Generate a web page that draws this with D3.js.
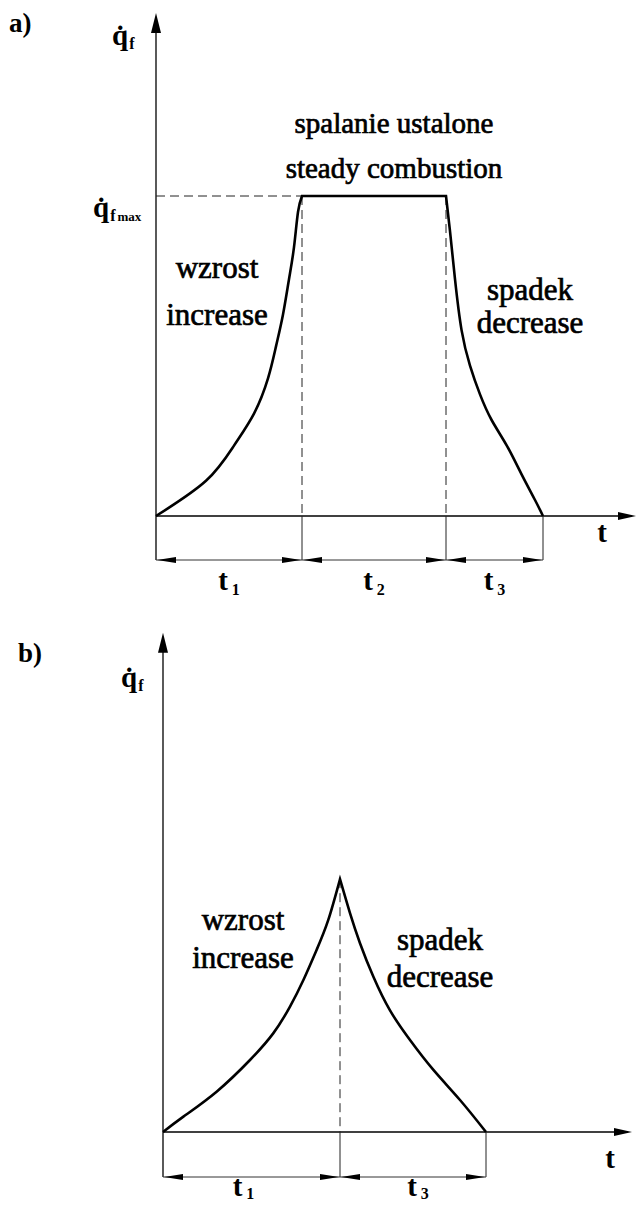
<!DOCTYPE html>
<html>
<head>
<meta charset="utf-8">
<script src="https://cdn.jsdelivr.net/npm/d3@7"></script>
</head>
<body style="margin:0">
<svg id="chart" width="637" height="1205" style="display:block;background:#fff"></svg>
<script>
// ---------------------------------------------------------------
// Heat release rate of a fire over time (schematic curves)
// time in arbitrary units, q̇f relative to q̇f max
// ---------------------------------------------------------------

// a) fire with a steady-combustion phase
const phaseBoundsA = [0, 36.5, 72.5, 96.75];
const phaseNamesA = ["1", "2", "3"];
const growthTimeA = [0, 12.5, 19.5, 24.5, 28, 30, 31.75, 33.25, 34.5, 35.5, 36.5];
const growthRateA = [0, 0.11, 0.22, 0.32, 0.43, 0.53, 0.63, 0.74, 0.84, 0.95, 1];
const steadyTimeA = [36.5, 72.5];
const steadyRateA = [1, 1];
const decayTimeA = [72.5, 73.5, 74.75, 76.4, 78.5, 81, 83.9, 87.7, 91.4, 94.75, 96.75];
const decayRateA = [1, 0.89, 0.74, 0.58, 0.47, 0.38, 0.3, 0.22, 0.13, 0.05, 0];

// b) fire that decays right after reaching its peak
const phaseBoundsB = [0, 44.25, 80.75];
const phaseNamesB = ["1", "3"];
const growthTimeB = [0, 5.1, 13.4, 21.75, 27.6, 31.75, 35.1, 38.4, 41.3, 44.25];
const growthRateB = [0, 0.048, 0.126, 0.225, 0.309, 0.392, 0.475, 0.569, 0.662, 0.79];
const decayTimeB = [44.25, 46.75, 49.25, 52.6, 56.75, 61.75, 67.6, 74.25, 80.75];
const decayRateB = [0.79, 0.684, 0.59, 0.485, 0.38, 0.2875, 0.194, 0.1, 0];

const FONT = "'Liberation Serif'";
const svg = d3.select("#chart").attr("font-family", FONT);

function txt(g, x, y, size, bold) {
  const t = g.append("text").attr("x", x).attr("y", y)
    .attr("font-family", FONT)
    .attr("font-size", size)
    .attr("fill", "#000");
  if (bold) t.attr("font-weight", "bold");
  return t;
}

// filled triangular arrow head; (x, y) is the tip, angle in degrees
function arrowHead(g, x, y, angle, len, half) {
  g.append("path")
    .attr("d", `M0,0 L${-len},${-half} L${-len},${half} Z`)
    .attr("transform", `translate(${x},${y}) rotate(${angle})`)
    .attr("fill", "#000");
}

function qLabel(g, x, y, sub, extra) {
  const t = txt(g, x, y, 29, true);
  t.append("tspan").text("q\u0307");
  t.append("tspan").attr("dx", 1).attr("dy", 4).attr("font-size", 16).text(sub);
  if (extra) t.append("tspan").attr("dx", 2).attr("font-size", 13).text(extra);
}

function phaseLabel(g, x, y, lines, gap, size) {
  lines.forEach((s, i) => {
    txt(g, x, y + i * gap, size, false)
      .attr("text-anchor", "middle")
      .attr("stroke", "#000").attr("stroke-width", 0.7)
      .text(s);
  });
}

function drawPanel(cfg) {
  const g = svg.append("g");
  const x = d3.scaleLinear().domain([0, cfg.tMax]).range(cfg.xRange);
  const y = d3.scaleLinear().domain([0, 1]).range(cfg.yRange);
  const y0 = y(0), x0 = x(0);

  // time axis
  g.append("line").attr("x1", x0).attr("x2", x(cfg.tMax) - 4)
    .attr("y1", y0).attr("y2", y0).attr("stroke", "#000").attr("stroke-width", 1.3);
  arrowHead(g, x(cfg.tMax), y0, 0, 18, 4);
  // rate axis (continues down to the dimension line)
  g.append("line").attr("x1", x0).attr("x2", x0)
    .attr("y1", y0 + cfg.dimOffset).attr("y2", y(cfg.qMax) + 4)
    .attr("stroke", "#000").attr("stroke-width", 1.3);
  arrowHead(g, x0, y(cfg.qMax), -90, 20, 5);

  // dashed guides
  cfg.guides.forEach(d => {
    g.append("line")
      .attr("x1", x(d[0])).attr("y1", y(d[1]))
      .attr("x2", x(d[2])).attr("y2", y(d[3]))
      .attr("stroke", "#222").attr("stroke-width", 1)
      .attr("stroke-dasharray", "9,5");
  });

  // dimension line with phase durations
  const dimY = y0 + cfg.dimOffset;
  const b = cfg.bounds;
  b.forEach((t, i) => {
    if (i === 0) return;
    g.append("line").attr("x1", x(t)).attr("x2", x(t))
      .attr("y1", y0).attr("y2", dimY)
      .attr("stroke", "#222").attr("stroke-width", 1);
  });
  g.append("line").attr("x1", x(b[0])).attr("x2", x(b[b.length - 1]))
    .attr("y1", dimY).attr("y2", dimY).attr("stroke", "#333").attr("stroke-width", 1);
  cfg.names.forEach((n, i) => {
    const xa = x(b[i]), xb = x(b[i + 1]);
    arrowHead(g, xa + 1, dimY, 180, 19, 3);
    arrowHead(g, xb - 1, dimY, 0, 19, 3);
    const t = txt(g, (xa + xb) / 2 + (cfg.nameShift ? cfg.nameShift[i] : 0),
                  dimY + cfg.nameOffset, 29, true)
      .attr("text-anchor", "middle");
    t.append("tspan").text("t");
    t.append("tspan").attr("dx", 4).attr("dy", cfg.subDrop).attr("font-size", 16).text(n);
  });

  // heat release curve
  const smooth = d3.line().x(d => x(d[0])).y(d => y(d[1])).curve(d3.curveNatural);
  const straight = d3.line().x(d => x(d[0])).y(d => y(d[1]));
  let dPath = "";
  cfg.segments.forEach((s, i) => {
    const p = (s.smooth ? smooth : straight)(d3.zip(s.t, s.q));
    dPath += i === 0 ? p : p.replace(/^M/, "L");
  });
  g.append("path").attr("d", dPath)
    .attr("fill", "none").attr("stroke", "#000")
    .attr("stroke-width", 2.6).attr("stroke-linejoin", "miter");

  // axis names
  txt(g, cfg.tLabel[0], cfg.tLabel[1], 29, true).attr("text-anchor", "middle").text("t");
  txt(g, cfg.panel[1], cfg.panel[2], 27, true).text(cfg.panel[0]);
  return { g, x, y };
}

// ---- panel a)
const A = drawPanel({
  tMax: 120, qMax: 1.572,
  xRange: [156, 636], yRange: [516, 196],
  bounds: phaseBoundsA, names: phaseNamesA,
  dimOffset: 44, nameOffset: 30, subDrop: 5,
  guides: [
    [0, 1, phaseBoundsA[1], 1],
    [phaseBoundsA[1], 1, phaseBoundsA[1], 0],
    [phaseBoundsA[2], 1, phaseBoundsA[2], 0]
  ],
  segments: [
    { t: growthTimeA, q: growthRateA, smooth: true },
    { t: steadyTimeA, q: steadyRateA, smooth: false },
    { t: decayTimeA, q: decayRateA, smooth: true }
  ],
  tLabel: [602, 542],
  panel: ["a)", 9, 32]
});
qLabel(A.g, 112, 45, "f");
qLabel(A.g, 93, 217, "f", "max");
phaseLabel(A.g, 394, 133, ["spalanie ustalone", "steady combustion"], 45, 29);
phaseLabel(A.g, 217, 278, ["wzrost", "increase"], 47, 31);
phaseLabel(A.g, 530, 300, ["spadek", "decrease"], 33, 31);

// ---- panel b)
const B = drawPanel({
  tMax: 117.25, qMax: 1.56,
  xRange: [163, 632], yRange: [1132, 812],
  bounds: phaseBoundsB, names: phaseNamesB,
  dimOffset: 45, nameOffset: 19, subDrop: 3,
  nameShift: [-8, 5],
  guides: [
    [phaseBoundsB[1], growthRateB[growthRateB.length - 1], phaseBoundsB[1], 0]
  ],
  segments: [
    { t: growthTimeB, q: growthRateB, smooth: true },
    { t: decayTimeB, q: decayRateB, smooth: true }
  ],
  tLabel: [610, 1168],
  panel: ["b)", 18, 662]
});
qLabel(B.g, 121, 687, "f");
phaseLabel(B.g, 243, 930, ["wzrost", "increase"], 38, 31);
phaseLabel(B.g, 440, 950, ["spadek", "decrease"], 37, 31);
</script>
</body>
</html>
